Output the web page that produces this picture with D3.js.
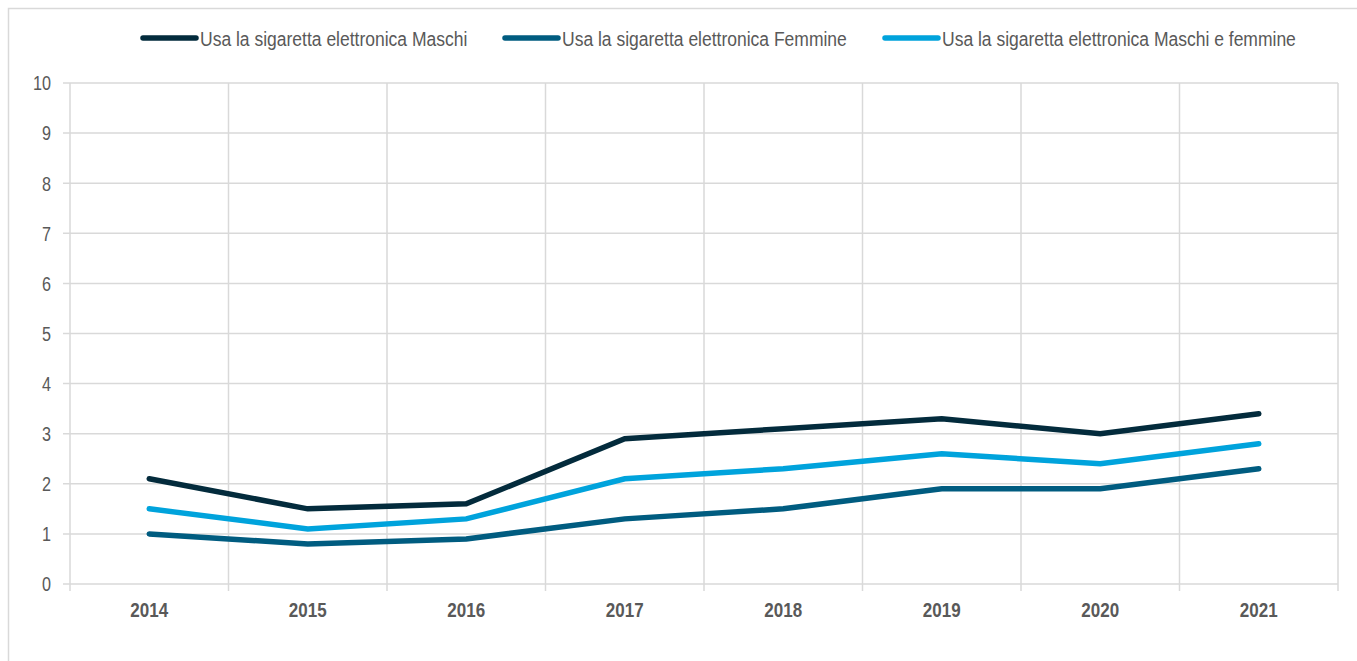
<!DOCTYPE html>
<html>
<head>
<meta charset="utf-8">
<script src="https://cdn.jsdelivr.net/npm/d3@7"></script>
<style>
  body { margin: 0; background: #fff; }
  svg { display: block; }
  text { font-family: "Liberation Sans Narrow", "Arial Narrow", "Liberation Sans", sans-serif; fill: #595959; }
</style>
</head>
<body>
<div id="chart"></div>
<script>
var years = ["2014", "2015", "2016", "2017", "2018", "2019", "2020", "2021"]
var maschi = [2.1, 1.5, 1.6, 2.9, 3.1, 3.3, 3.0, 3.4]
var femmine = [1.0, 0.8, 0.9, 1.3, 1.5, 1.9, 1.9, 2.3]
var totale = [1.5, 1.1, 1.3, 2.1, 2.3, 2.6, 2.4, 2.8]
var yTicks = [0, 1, 2, 3, 4, 5, 6, 7, 8, 9, 10]

var seriesNames = ["Usa la sigaretta elettronica Maschi", "Usa la sigaretta elettronica Femmine", "Usa la sigaretta elettronica Maschi e femmine"]
var seriesValues = [maschi, femmine, totale]
var seriesColors = ["#032B3C", "#005C80", "#00A3DC"]

var W = 1357, H = 661
var margin = {top: 83, right: 19, bottom: 77, left: 70}
var width = W - margin.left - margin.right
var height = H - margin.top - margin.bottom

// no narrow font installed, so squeeze text horizontally
function squeeze(sel, sx){
    sel.attr("transform", function(){
        var t = d3.select(this)
        return "translate(" + t.attr("x") + "," + t.attr("y") + ") scale(" + sx + ",1)"
    }).attr("x", 0).attr("y", 0)
}

var svg = d3.select("#chart").append("svg")
    .attr("width", W)
    .attr("height", H)

// outer frame
svg.append("rect")
    .attr("x", 8.5).attr("y", 8.5)
    .attr("width", 1400).attr("height", 700)
    .attr("fill", "none")
    .attr("stroke", "#d9d9d9")
    .attr("stroke-width", 1.5)

var g = svg.append("g")
    .attr("transform", "translate(" + margin.left + "," + margin.top + ")")

var x = d3.scaleBand().domain(years).range([0, width])
var y = d3.scaleLinear().domain([0, 10]).range([height, 0])

// horizontal grid + y ticks
g.selectAll(".hgrid")
    .data(yTicks)
  .enter()
    .append("line")
    .attr("x1", -7).attr("x2", width)
    .attr("y1", function(d){ return y(d) })
    .attr("y2", function(d){ return y(d) })
    .attr("stroke", "#d9d9d9")
    .attr("stroke-width", 1.5)

// vertical grid at band edges
var edges = years.map(function(d){ return x(d) }).concat([width])
g.selectAll(".vgrid")
    .data(edges)
  .enter()
    .append("line")
    .attr("x1", function(d){ return d }).attr("x2", function(d){ return d })
    .attr("y1", 0).attr("y2", height + 7)
    .attr("stroke", "#d9d9d9")
    .attr("stroke-width", 1.5)

g.selectAll(".ylab")
    .data(yTicks)
  .enter()
    .append("text")
    .attr("x", -19)
    .attr("y", function(d){ return y(d) })
    .attr("dy", "0.35em")
    .attr("text-anchor", "end")
    .style("font-size", "21px")
    .text(function(d){ return d })
    .call(squeeze, 0.77)

g.selectAll(".xlab")
    .data(years)
  .enter()
    .append("text")
    .attr("x", function(d){ return x(d) + x.bandwidth() / 2 })
    .attr("y", height + 26)
    .attr("dy", "0.35em")
    .attr("text-anchor", "middle")
    .style("font-size", "21px")
    .style("font-weight", "bold")
    .text(function(d){ return d })
    .call(squeeze, 0.81)

var line = d3.line()
    .x(function(d, i){ return x(years[i]) + x.bandwidth() / 2 })
    .y(function(d){ return y(d) })

seriesValues.forEach(function(vals, k){
    g.append("path")
        .datum(vals)
        .attr("d", line)
        .attr("fill", "none")
        .attr("stroke", seriesColors[k])
        .attr("stroke-width", 5.5)
        .attr("stroke-linecap", "round")
        .attr("stroke-linejoin", "miter")
})

// legend
var legendX = [143, 505, 885]
var legend = svg.selectAll(".legend")
    .data(seriesNames)
  .enter()
    .append("g")
    .attr("transform", function(d, i){ return "translate(" + legendX[i] + ",38)" })

legend.append("line")
    .attr("x1", 0).attr("x2", 53)
    .attr("y1", 0).attr("y2", 0)
    .attr("stroke", function(d, i){ return seriesColors[i] })
    .attr("stroke-width", 5.5)
    .attr("stroke-linecap", "round")

legend.append("text")
    .attr("x", 57)
    .attr("y", 1)
    .attr("dy", "0.35em")
    .style("font-size", "20px")
    .text(function(d){ return d })
    .call(squeeze, 0.875)
</script>
</body>
</html>
